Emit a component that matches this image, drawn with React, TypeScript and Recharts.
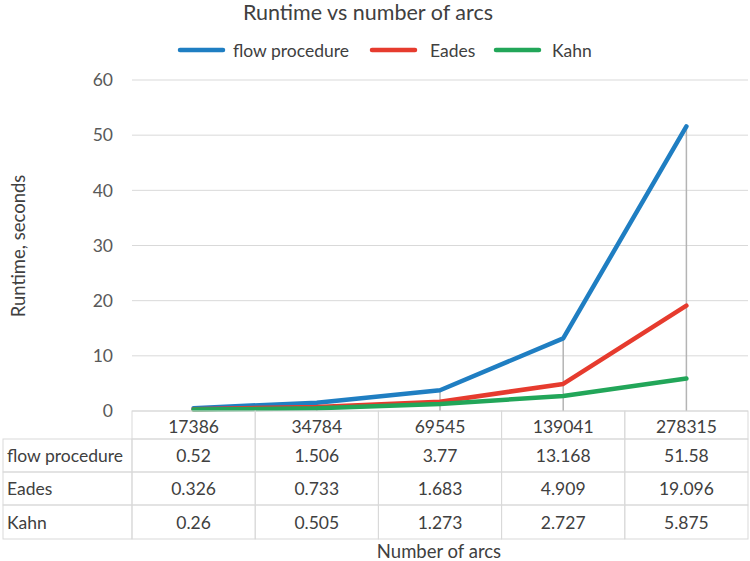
import React from 'react';
import { LineChart, Line, XAxis, YAxis, CartesianGrid, ReferenceLine } from 'recharts';

const categories = ['17386', '34784', '69545', '139041', '278315'];
const flowProcedure = [0.52, 1.506, 3.77, 13.168, 51.58];
const eades = [0.326, 0.733, 1.683, 4.909, 19.096];
const kahn = [0.26, 0.505, 1.273, 2.727, 5.875];
const yTicks = [0, 10, 20, 30, 40, 50, 60];
const seriesNames = ['flow procedure', 'Eades', 'Kahn'];
const seriesKeys = ['flow', 'eades', 'kahn'];
const seriesColors = ['#1F7EC2', '#E63B2E', '#22A659'];
const seriesValues = [flowProcedure, eades, kahn];

const chartTitle = 'Runtime vs number of arcs';
const yTitle = 'Runtime, seconds';
const xTitle = 'Number of arcs';

const data = categories.map((c, i) => ({
  arcs: c,
  flow: flowProcedure[i],
  eades: eades[i],
  kahn: kahn[i],
  top: Math.max(flowProcedure[i], eades[i], kahn[i]),
}));

const FONT = 'Lato, "Open Sans", sans-serif';
const TEXT = '#404040';
const BORDER = '#d9d9d9';
const TABLE_FS = 17.5;
const rowEdges = [0, 28, 61, 94, 128];
const TABLE_LEFT = 3;

const TableTick = (props: any) => {
  const { x, y, payload, index, width, visibleTicksCount } = props;
  const n = visibleTicksCount || categories.length;
  const bw = (width || 616) / n;
  const left = x - bw / 2;
  const idx = payload.index ?? index;
  const els: any[] = [];
  els.push(
    <rect key="h" x={left} y={y + rowEdges[0]} width={bw} height={rowEdges[1] - rowEdges[0]} fill="none" stroke={BORDER} strokeWidth={1} />
  );
  els.push(
    <text key="ht" x={x} y={y + (rowEdges[0] + rowEdges[1]) / 2 + 1} textAnchor="middle" dominantBaseline="central" fontSize={TABLE_FS} fill={TEXT} fontFamily={FONT}>
      {payload.value}
    </text>
  );
  seriesValues.forEach((vals, r) => {
    const top = y + rowEdges[r + 1];
    const h = rowEdges[r + 2] - rowEdges[r + 1];
    els.push(<rect key={'c' + r} x={left} y={top} width={bw} height={h} fill="none" stroke={BORDER} strokeWidth={1} />);
    els.push(
      <text key={'t' + r} x={x} y={top + h / 2} textAnchor="middle" dominantBaseline="central" fontSize={TABLE_FS} fill={TEXT} fontFamily={FONT}>
        {String(vals[idx])}
      </text>
    );
    if (idx === 0) {
      els.push(<rect key={'l' + r} x={TABLE_LEFT} y={top} width={left - TABLE_LEFT} height={h} fill="none" stroke={BORDER} strokeWidth={1} />);
      els.push(
        <text key={'lt' + r} x={TABLE_LEFT + 4} y={top + h / 2} textAnchor="start" dominantBaseline="central" fontSize={TABLE_FS} fill={TEXT} fontFamily={FONT}>
          {seriesNames[r]}
        </text>
      );
    }
  });
  return <g>{els}</g>;
};

const legendLineX = [180, 372, 496];
const legendTextX = [233, 430, 552];

export default function App() {
  return (
    <div style={{ position: 'absolute', left: 0, top: 0, width: 750, height: 561, background: '#fff', fontFamily: FONT }}>
      <LineChart width={750} height={561} data={data} margin={{ top: 80, right: 2, bottom: 22, left: 92 }}>
        <CartesianGrid vertical={false} stroke={BORDER} strokeWidth={1} />
        <YAxis
          width={40}
          domain={[0, 60]}
          ticks={yTicks}
          axisLine={false}
          tickLine={false}
          tickMargin={13}
          tick={{ fontSize: 17.5, fill: '#595959', fontFamily: FONT }}
        />
        <XAxis
          dataKey="arcs"
          scale="band"
          height={128}
          interval={0}
          axisLine={false}
          tickLine={false}
          tickSize={0}
          tickMargin={0}
          tick={<TableTick />}
        />
        {data.map((d) => (
          <ReferenceLine
            key={d.arcs}
            segment={[{ x: d.arcs, y: 0 }, { x: d.arcs, y: d.top }]}
            stroke="#b4b4b4"
            strokeWidth={1.5}
            ifOverflow="visible"
          />
        ))}
        {seriesKeys.map((k, i) => (
          <Line
            key={k}
            dataKey={k}
            name={seriesNames[i]}
            type="linear"
            stroke={seriesColors[i]}
            strokeWidth={4.5}
            strokeLinecap="round"
            strokeLinejoin="round"
            dot={false}
            activeDot={false}
            isAnimationActive={false}
          />
        ))}
      </LineChart>
      <svg width={750} height={561} style={{ position: 'absolute', left: 0, top: 0, pointerEvents: 'none' }}>
        <text x={368} y={12} textAnchor="middle" dominantBaseline="central" fontSize={21.5} fill={TEXT} fontFamily={FONT}>
          {chartTitle}
        </text>
        {seriesNames.map((name, i) => (
          <g key={name}>
            <line x1={legendLineX[i]} x2={legendLineX[i] + 43} y1={50} y2={50} stroke={seriesColors[i]} strokeWidth={4.5} strokeLinecap="round" />
            <text x={legendTextX[i]} y={50} dominantBaseline="central" fontSize={17.5} fill={TEXT} fontFamily={FONT}>
              {name}
            </text>
          </g>
        ))}
        <text x={18} y={246} transform="rotate(-90 18 246)" textAnchor="middle" dominantBaseline="central" fontSize={18.5} fill={TEXT} fontFamily={FONT}>
          {yTitle}
        </text>
        <text x={439} y={551} textAnchor="middle" dominantBaseline="central" fontSize={18.5} fill={TEXT} fontFamily={FONT}>
          {xTitle}
        </text>
      </svg>
    </div>
  );
}
